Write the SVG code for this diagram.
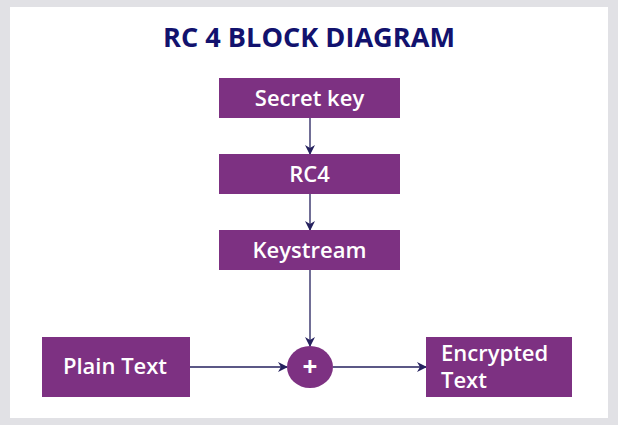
<svg xmlns="http://www.w3.org/2000/svg" width="618" height="425" viewBox="0 0 618 425">
<defs>
<style>
.box{fill:#7d3182}
.lbl{fill:#ffffff;font-family:"Open Sans","Noto Sans",sans-serif;font-weight:600;font-size:22px}
.ttl{fill:#12126e;font-family:"Open Sans","Noto Sans",sans-serif;font-weight:700;font-size:27px}
.edge{stroke:#25215e;stroke-width:1.3;fill:none}
</style>
<marker id="arr" viewBox="0 0 10 10" refX="9" refY="5" markerWidth="10" markerHeight="10" markerUnits="userSpaceOnUse" orient="auto">
<path d="M0,0 L10,5 L0,10 L3,5 Z" fill="#25215e"/>
</marker>
</defs>
<rect x="0" y="0" width="618" height="425" fill="#e1e1e5"/>
<rect x="10" y="7" width="598" height="411" fill="#ffffff"/>
<text class="ttl" x="309" y="47" text-anchor="middle" textLength="292" lengthAdjust="spacingAndGlyphs">RC 4 BLOCK DIAGRAM</text>
<g id="connectors">
<line class="edge" x1="310" y1="118" x2="310" y2="154" marker-end="url(#arr)"/>
<line class="edge" x1="310" y1="194" x2="310" y2="230" marker-end="url(#arr)"/>
<line class="edge" x1="310" y1="270" x2="310" y2="346" marker-end="url(#arr)"/>
<line class="edge" x1="190" y1="367" x2="287" y2="367" marker-end="url(#arr)"/>
<line class="edge" x1="333" y1="367" x2="426" y2="367" marker-end="url(#arr)"/>
</g>
<g id="secret-key">
<rect class="box" x="219" y="78" width="181" height="40"/>
<text class="lbl" x="309.5" y="106" text-anchor="middle">Secret key</text>
</g>
<g id="rc4">
<rect class="box" x="219" y="154" width="181" height="40"/>
<text class="lbl" x="309.5" y="182" text-anchor="middle">RC4</text>
</g>
<g id="keystream">
<rect class="box" x="219" y="230" width="181" height="40"/>
<text class="lbl" x="309.5" y="258" text-anchor="middle">Keystream</text>
</g>
<g id="plain-text">
<rect class="box" x="42" y="337" width="148" height="60"/>
<text class="lbl" x="115" y="374" text-anchor="middle">Plain Text</text>
</g>
<g id="xor">
<ellipse class="box" cx="310" cy="367" rx="23" ry="21"/>
<text class="lbl" x="310" y="376" text-anchor="middle" style="font-size:26px;font-weight:700">+</text>
</g>
<g id="encrypted-text">
<rect class="box" x="426" y="337" width="146" height="60"/>
<text class="lbl" x="441" y="361">Encrypted</text>
<text class="lbl" x="441" y="388">Text</text>
</g>
</svg>
